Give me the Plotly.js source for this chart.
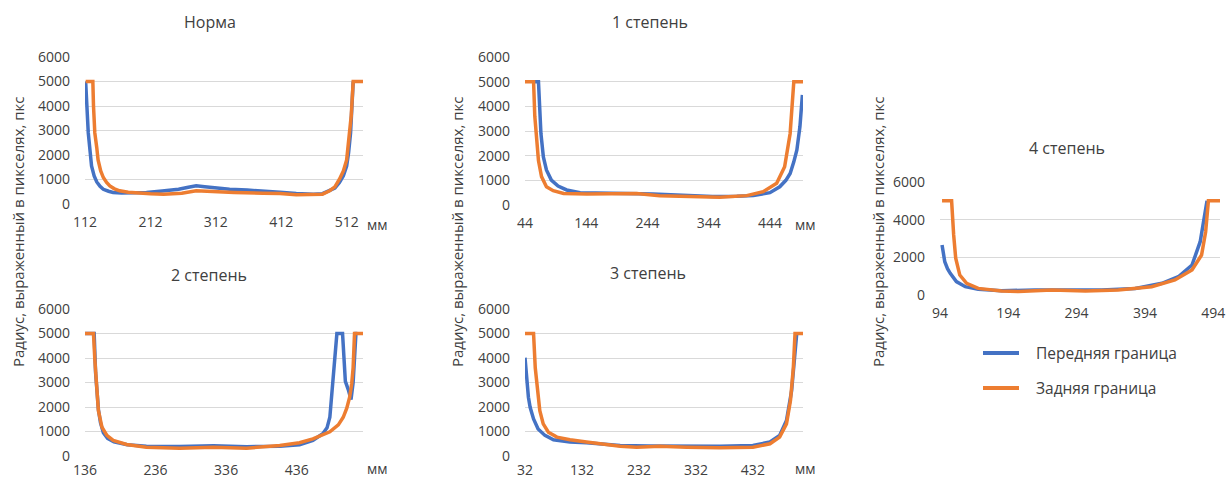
<!DOCTYPE html>
<html>
<head>
<meta charset="utf-8">
<script src="https://cdn.plot.ly/plotly-3.0.1.min.js"></script>
<style>html,body{margin:0;padding:0;background:#fff}#chart{width:1226px;height:481px}</style>
</head>
<body>
<div id="chart"></div>
<script>
// ---- Data (mm along the sample, radius in pixels) ----
var panelTitles = ["Норма", "1 степень", "2 степень", "3 степень", "4 степень"];
var seriesNames = ["Передняя граница", "Задняя граница"];
var yTickVals = [0, 1000, 2000, 3000, 4000, 5000, 6000];
var yTickVals4 = [0, 2000, 4000, 6000];

// Норма
var normFrontX = [113,115,117,120,122,126,130,135,140,148,155,168,181,206,230,255,270,282,295,310,333,360,384,410,435,461,475,486,494,501,507,512,515,518,520,522];
var normFrontY = [5000,3800,2900,2100,1550,1150,900,720,600,520,470,450,450,470,530,600,680,740,700,650,600,570,540,480,430,400,420,540,650,880,1150,1550,2100,2900,3800,5000];
var normBackX = [113,124,125,127,130,132,136,140,145,150,157,165,178,191,212,232,260,282,310,340,384,410,435,461,475,486,494,501,507,512,516,519,522,537];
var normBackY = [5000,5000,4000,2900,2300,1800,1350,1080,880,740,620,540,480,450,420,400,440,540,500,470,440,430,380,380,400,540,700,1010,1350,1800,2700,3600,5000,5000];
var normTicks = [112, 212, 312, 412, 512];

// 1 степень
var st1FrontX = [58,66,70,74,79,87,98,112,134,172,210,253,300,350,390,417,444,460,470,477,483,488,493,497];
var st1FrontY = [5000,5000,2900,1950,1420,1010,770,610,500,470,470,450,390,340,350,380,500,740,1000,1280,1750,2230,3180,4460];
var st1BackX = [44,58,60,63,66,71,79,90,107,145,190,226,264,308,362,406,433,455,468,477,481,483,498];
var st1BackY = [5000,5000,3600,2600,1800,1150,740,580,470,450,450,470,380,340,310,380,540,880,1550,2900,4250,5000,5000];
var st1Ticks = [44, 144, 244, 344, 444];

// 2 степень
var st2FrontX = [136,149,151,153,155,158,162,168,177,196,223,270,318,365,412,440,459,473,479,483,487,491,493,501,503,505,509,513,516,518,520,522];
var st2FrontY = [5000,5000,3400,2600,1900,1350,950,720,580,460,400,390,420,380,400,460,640,910,1150,1580,2930,4280,5000,5000,3600,3050,2720,2300,3000,4280,5000,5000];
var st2BackX = [136,148,150,152,155,160,167,176,195,223,270,318,365,412,440,459,483,495,502,507,511,514,516,518,530];
var st2BackY = [5000,5000,3900,2930,1850,1180,840,640,470,360,320,360,320,430,540,700,990,1270,1580,1950,2390,2950,3600,5000,5000];
var st2Ticks = [136, 236, 336, 436];

// 3 степень
var st3FrontX = [32,35,38,41,47,55,67,82,111,140,169,199,250,316,374,432,462,479,491,500,506,509];
var st3FrontY = [4010,2930,2400,1990,1510,1100,840,660,570,540,500,430,410,400,400,430,570,840,1450,2660,4280,5000];
var st3BackX = [32,47,50,54,58,64,73,88,111,140,169,199,228,269,316,374,432,462,479,491,498,503,506,520];
var st3BackY = [5000,5000,3600,2530,1850,1310,970,770,660,570,470,400,360,400,360,340,360,500,770,1310,2260,3600,5000,5000];
var st3Ticks = [32, 132, 232, 332, 432];

// 4 степень
var st4FrontX = [97,101,105,109,118,131,150,184,233,282,331,380,419,443,463,475,481,485];
var st4FrontY = [2650,1770,1400,1150,710,440,300,230,265,265,265,350,620,970,1590,2830,4250,5000];
var st4BackX = [97,111,114,117,123,133,150,184,209,258,307,355,404,438,463,477,483,487,504];
var st4BackY = [5000,5000,3190,1950,1060,620,350,210,180,265,210,265,440,800,1330,2120,3360,5000,5000];
var st4Ticks = [94, 194, 294, 394, 494];

// ---- Build ----
var W = 1226, H = 481;
function px(x) { return x / W; }
function py(y) { return 1 - y / H; }

var panels = [
  {fx: normFrontX, fy: normFrontY, bx: normBackX, by: normBackY, ticks: normTicks, xr: [112, 537], box: [85, 363, 57, 204], yt: yTickVals, so: 8},
  {fx: st1FrontX, fy: st1FrontY, bx: st1BackX, by: st1BackY, ticks: st1Ticks, xr: [44, 498], box: [525, 803, 57, 205], yt: yTickVals, so: 8},
  {fx: st2FrontX, fy: st2FrontY, bx: st2BackX, by: st2BackY, ticks: st2Ticks, xr: [136, 530], box: [85, 363, 309, 456], yt: yTickVals, so: 4},
  {fx: st3FrontX, fy: st3FrontY, bx: st3BackX, by: st3BackY, ticks: st3Ticks, xr: [32, 520], box: [525, 803, 309, 456], yt: yTickVals, so: 4},
  {fx: st4FrontX, fy: st4FrontY, bx: st4BackX, by: st4BackY, ticks: st4Ticks, xr: [94, 504], box: [940, 1220, 182, 295], yt: yTickVals4, so: 8}
];

var FONT = "Open Sans, Noto Sans, sans-serif";
var BLUE = "#4472C4", ORANGE = "#ED7D31";
var LW = 3.5;
var traces = [];
var layout = {
  width: W, height: H,
  margin: {l: 0, r: 0, t: 0, b: 0},
  paper_bgcolor: "#ffffff", plot_bgcolor: "#ffffff",
  font: {family: FONT, color: "#404040", size: 14},
  showlegend: false,
  annotations: [],
  shapes: []
};

panels.forEach(function (p, i) {
  var xa = "x" + (i === 0 ? "" : i + 1), ya = "y" + (i === 0 ? "" : i + 1);
  traces.push({x: p.fx, y: p.fy, xaxis: xa, yaxis: ya, type: "scatter", mode: "lines",
    name: seriesNames[0], line: {color: BLUE, width: LW}, hoverinfo: "skip"});
  traces.push({x: p.bx, y: p.by, xaxis: xa, yaxis: ya, type: "scatter", mode: "lines",
    name: seriesNames[1], line: {color: ORANGE, width: LW}, hoverinfo: "skip"});
  var xk = "xaxis" + (i === 0 ? "" : i + 1), yk = "yaxis" + (i === 0 ? "" : i + 1);
  layout[xk] = {domain: [px(p.box[0]), px(p.box[1])], range: p.xr, anchor: ya,
    tickmode: "array", tickvals: p.ticks, ticktext: p.ticks.map(String),
    showgrid: false, zeroline: false, showline: false, ticks: "", ticklabelstandoff: p.so,
    tickfont: {size: 14, color: "#404040", family: FONT}, fixedrange: true};
  layout[yk] = {domain: [py(p.box[3]), py(p.box[2])], range: [0, 6000], anchor: xa,
    tickmode: "array", tickvals: p.yt, ticktext: p.yt.map(String),
    showgrid: true, gridcolor: "#d9d9d9", gridwidth: 1, zeroline: false, showline: false,
    ticks: "", ticklabelstandoff: 14, tickfont: {size: 14, color: "#404040", family: FONT}, fixedrange: true};
});

// Panel titles
var titlePos = [[210, 22], [650, 22], [209, 275], [648, 273], [1067, 148]];
panelTitles.forEach(function (t, i) {
  layout.annotations.push({text: t, x: px(titlePos[i][0]), y: py(titlePos[i][1]), xref: "paper", yref: "paper",
    showarrow: false, xanchor: "center", yanchor: "middle", font: {size: 16, color: "#404040", family: FONT}});
});
// unit labels
[[377, 224], [805, 224], [377, 468], [805, 468]].forEach(function (q) {
  layout.annotations.push({text: "мм", x: px(q[0]), y: py(q[1]), xref: "paper", yref: "paper",
    showarrow: false, xanchor: "center", yanchor: "middle", font: {size: 14, color: "#404040", family: FONT}});
});
// y-axis titles
[18, 457, 878].forEach(function (xx) {
  layout.annotations.push({text: "Радиус, выраженный в пикселях, пкс", x: px(xx), y: py(232), xref: "paper", yref: "paper",
    showarrow: false, textangle: -90, xanchor: "center", yanchor: "middle", font: {size: 15, color: "#404040", family: FONT}});
});
// legend (drawn manually to match spacing)
var legendRows = [[353, BLUE], [388, ORANGE]];
legendRows.forEach(function (r, k) {
  layout.shapes.push({type: "line", xref: "paper", yref: "paper", x0: px(983), x1: px(1019), y0: py(r[0]), y1: py(r[0]),
    line: {color: r[1], width: LW + 0.5}});
  layout.annotations.push({text: seriesNames[k], x: px(1034), y: py(r[0]), xref: "paper", yref: "paper",
    showarrow: false, xanchor: "left", yanchor: "middle", font: {size: 15.5, color: "#404040", family: FONT}});
});

Plotly.newPlot("chart", traces, layout, {displayModeBar: false, staticPlot: true});
</script>
</body>
</html>
